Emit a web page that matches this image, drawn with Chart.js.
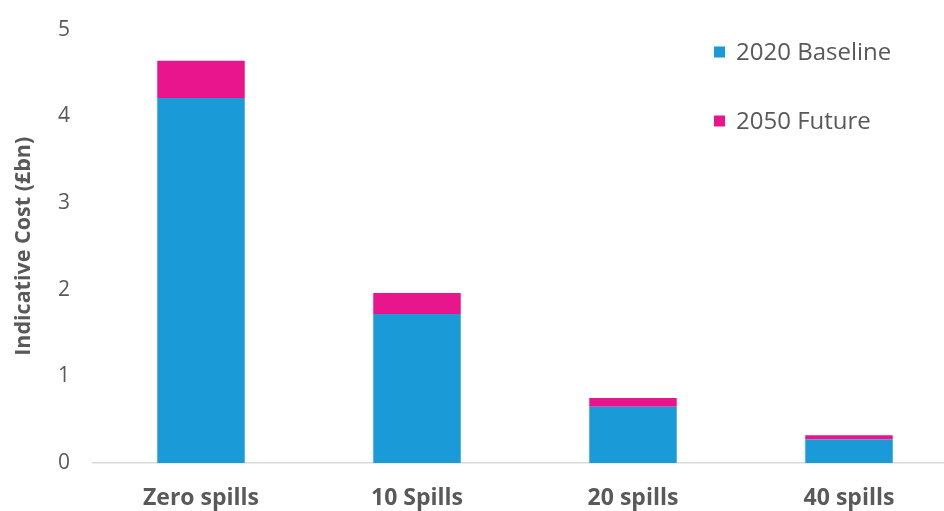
<!DOCTYPE html>
<html>
<head>
<meta charset="utf-8">
<script src="https://cdn.jsdelivr.net/npm/chart.js@4/dist/chart.umd.min.js"></script>
<style>
  html, body { margin: 0; padding: 0; background: #ffffff; overflow: hidden; width: 944px; height: 511px; }
  #wrap { width: 960px; height: 517px; position: relative; top: -6px; }
</style>
</head>
<body>
<div id="wrap"><canvas id="c" width="960" height="517"></canvas></div>
<script>
const categories = ["Zero spills", "10 Spills", "20 spills", "40 spills"];
const baseline2020 = [4.21, 1.72, 0.65, 0.27];
const future2050 = [0.43, 0.24, 0.10, 0.05];
const yTicks = [0, 1, 2, 3, 4, 5];
const seriesNames = ["2020 Baseline", "2050 Future"];
const seriesColors = ["#1a9bd7", "#e8158c"];

const legendPlugin = {
  id: 'insideLegend',
  afterDraw(chart) {
    const ctx = chart.ctx;
    ctx.save();
    const items = chart.data.datasets;
    const ys = [58, 127];
    items.forEach((ds, i) => {
      ctx.fillStyle = ds.backgroundColor;
      ctx.fillRect(714, ys[i] - 5.5, 11, 11);
      ctx.fillStyle = '#595959';
      ctx.font = '24px "Open Sans"';
      ctx.textBaseline = 'middle';
      ctx.textAlign = 'left';
      ctx.fillText(ds.label, 736, ys[i] + 1.5);
    });
    ctx.restore();
  }
};

new Chart(document.getElementById('c'), {
  type: 'bar',
  data: {
    labels: categories,
    datasets: [
      { label: seriesNames[0], data: baseline2020, backgroundColor: seriesColors[0], borderWidth: 0 },
      { label: seriesNames[1], data: future2050, backgroundColor: seriesColors[1], borderWidth: 0 }
    ]
  },
  options: {
    responsive: false,
    animation: false,
    layout: { padding: { left: 0, right: 3, top: 4, bottom: 0 } },
    datasets: { bar: { categoryPercentage: 1.0, barPercentage: 0.405 } },
    plugins: { legend: { display: false }, tooltip: { enabled: false } },
    scales: {
      x: {
        stacked: true,
        afterFit(scale) { scale.height = 48; },
        grid: { display: false, drawTicks: false },
        border: { display: true, color: '#d9d9d9', width: 1.5 },
        ticks: { color: '#595959', font: { family: 'Open Sans', size: 23, weight: 'bold' }, padding: 22 }
      },
      y: {
        stacked: true,
        min: 0, max: 5,
        afterFit(scale) { scale.width = 93; },
        afterBuildTicks(scale) { scale.ticks = yTicks.map(v => ({ value: v })); },
        grid: { display: false, drawTicks: false },
        border: { display: false },
        ticks: { color: '#595959', font: { family: 'Open Sans', size: 21 }, padding: 23 },
        title: { display: true, text: 'Indicative Cost (£bn)', color: '#595959', font: { family: 'Open Sans', size: 21.5, weight: 'bold' }, padding: { top: 11, bottom: 0 } }
      }
    }
  },
  plugins: [legendPlugin]
});
</script>
</body>
</html>
